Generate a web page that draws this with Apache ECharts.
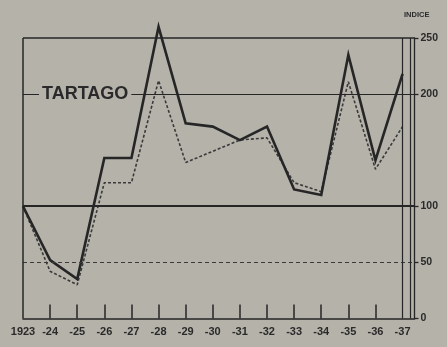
<!DOCTYPE html>
<html>
<head>
<meta charset="utf-8">
<script src="https://cdn.jsdelivr.net/npm/echarts@6/dist/echarts.min.js"></script>
<style>
  html, body { margin: 0; padding: 0; background: #b5b2aa; }
  #chart { width: 447px; height: 347px; }
</style>
</head>
<body>
<div id="chart"></div>
<script>
// Years on the horizontal axis and their printed labels
const years = [1923, 1924, 1925, 1926, 1927, 1928, 1929, 1930, 1931, 1932, 1933, 1934, 1935, 1936, 1937];
const yearLabels = ['1923', '-24', '-25', '-26', '-27', '-28', '-29', '-30', '-31', '-32', '-33', '-34', '-35', '-36', '-37'];

// Index values (1923 = 100)
const solidIndex = [100, 52, 35, 143, 143, 260, 174, 171, 159, 171, 115, 110, 235, 141, 218];
const dottedIndex = [100, 42, 30, 121, 121, 212, 139, 149, 159, 161, 121, 113, 211, 133, 171];

// Index scale labels on the right
const indexTicks = [0, 50, 100, 200, 250];

const ink = '#262626';
const paper = '#b5b2aa';
const font = 'Liberation Sans';

const pairs = (vals) => years.map((y, i) => [y, vals[i]]);

const chart = echarts.init(document.getElementById('chart'), null, { renderer: 'canvas' });

chart.setOption({
  backgroundColor: paper,
  animation: false,
  grid: { left: 23, right: 32.5, top: 38, bottom: 28.6 },
  xAxis: {
    type: 'value',
    min: years[0],
    max: years[years.length - 1] + 0.44,
    splitLine: { show: false },
    axisLine: { show: true, onZero: false, lineStyle: { color: ink, width: 1.6 } },
    axisTick: {
      show: true, inside: true, length: 14,
      customValues: years.slice(1, -1),
      lineStyle: { color: ink, width: 1.5 }
    },
    axisLabel: {
      customValues: years,
      margin: 8,
      color: '#2a2a2a',
      fontFamily: font,
      fontWeight: 'bold',
      fontSize: 11,
      formatter: (v) => yearLabels[years.indexOf(Math.round(v))] || ''
    }
  },
  yAxis: {
    type: 'value',
    position: 'right',
    min: 0,
    max: 250,
    splitLine: { show: false },
    axisLine: { show: true, lineStyle: { color: ink, width: 1.3 } },
    axisTick: {
      show: true, length: 4,
      customValues: indexTicks,
      lineStyle: { color: ink, width: 1.3 }
    },
    axisLabel: {
      customValues: indexTicks,
      margin: 6,
      color: '#2a2a2a',
      fontFamily: font,
      fontWeight: 'bold',
      fontSize: 10.5
    }
  },
  series: [
    {
      type: 'line',
      data: pairs(dottedIndex),
      symbol: 'none',
      clip: false,
      z: 3,
      lineStyle: { color: '#3a3a3a', width: 1.6, type: [3, 2] },
      markLine: {
        silent: true,
        symbol: 'none',
        label: { show: false },
        data: [
          { yAxis: 250, lineStyle: { color: ink, width: 1.5, type: 'solid' } },
          { yAxis: 200, lineStyle: { color: ink, width: 1.1, type: 'solid' } },
          { yAxis: 100, lineStyle: { color: ink, width: 2.2, type: 'solid' } },
          { yAxis: 50, lineStyle: { color: '#3a3a3a', width: 1.1, type: [4, 3] } },
          { xAxis: years[0], lineStyle: { color: ink, width: 1.5, type: 'solid' } },
          { xAxis: years[years.length - 1], lineStyle: { color: ink, width: 1.2, type: 'solid' } },
          { xAxis: years[years.length - 1] + 0.27, lineStyle: { color: ink, width: 1.2, type: 'solid' } }
        ]
      }
    },
    {
      type: 'line',
      data: pairs(solidIndex),
      symbol: 'none',
      clip: false,
      z: 4,
      lineStyle: { color: ink, width: 2.6, join: 'miter' }
    }
  ],
  graphic: [
    {
      type: 'text',
      left: 39,
      top: 85,
      z: 10,
      style: {
        text: 'TARTAGO',
        font: 'bold 18px "Liberation Sans"',
        fill: '#2a2a2a',
        backgroundColor: paper,
        padding: [0, 3, 0, 3]
      }
    },
    {
      type: 'text',
      left: 404,
      top: 11,
      style: {
        text: 'INDICE',
        font: 'bold 7.5px "Liberation Sans"',
        fill: '#2a2a2a'
      }
    }
  ]
});
</script>
</body>
</html>
